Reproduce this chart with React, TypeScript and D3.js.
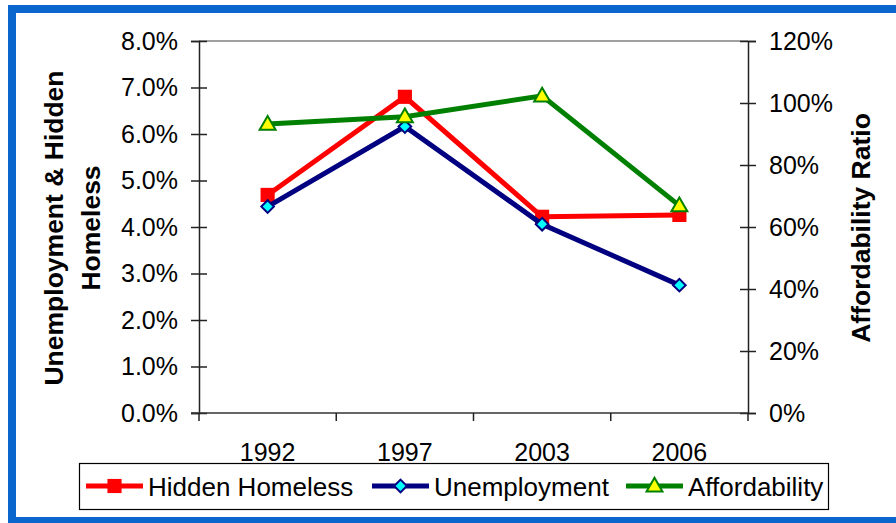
import * as d3 from "d3";
import React, { useEffect, useRef } from "react";

// chart values
const years = ["1992", "1997", "2003", "2006"];
const hiddenHomeless = [0.0469, 0.068, 0.0422, 0.0426];
const unemployment = [0.0444, 0.0616, 0.0406, 0.0275];
const affordability = [0.932, 0.956, 1.023, 0.669];
const leftTicks = [0, 0.01, 0.02, 0.03, 0.04, 0.05, 0.06, 0.07, 0.08];
const rightTicks = [0, 0.2, 0.4, 0.6, 0.8, 1.0, 1.2];
const legendLabels = ["Hidden Homeless", "Unemployment", "Affordability"];

export default function App() {
  const ref = useRef<SVGSVGElement>(null);

  useEffect(() => {
    const width = 896;
    const height = 523;
    const font = "'Liberation Sans', Arial, sans-serif";

    const svg = d3.select(ref.current);
    svg.selectAll("*").remove();
    svg.attr("viewBox", [0, 0, width, height]).style("font-family", font);

    // plot area
    const margin = { top: 41, right: 148, bottom: 110, left: 199 };
    const x = d3
      .scaleBand<string>()
      .domain(years)
      .range([margin.left, width - margin.right])
      .padding(0);
    const yL = d3.scaleLinear([0, 0.08], [height - margin.bottom, margin.top]);
    const yR = d3.scaleLinear([0, 1.2], [height - margin.bottom, margin.top]);
    const cx = (d: string) => (x(d) as number) + x.bandwidth() / 2;

    // blue frame
    const blue = "#0A66CC";
    svg.append("rect").attr("x", 8).attr("y", 5).attr("width", 888).attr("height", 8).attr("fill", blue);
    svg.append("rect").attr("x", 8).attr("y", 5).attr("width", 8).attr("height", 518).attr("fill", blue);
    svg.append("rect").attr("x", 8).attr("y", 517).attr("width", 888).attr("height", 6).attr("fill", blue);

    // top border of plot area
    svg
      .append("line")
      .attr("x1", margin.left)
      .attr("x2", width - margin.right)
      .attr("y1", margin.top)
      .attr("y2", margin.top)
      .attr("stroke", "#808080")
      .attr("stroke-width", 1.5);

    // left axis
    svg
      .append("g")
      .attr("transform", `translate(${margin.left},0)`)
      .call(d3.axisLeft(yL).tickValues(leftTicks).tickFormat(d3.format(".1%")).tickSize(8).tickPadding(13))
      .call((g) => g.select(".domain").attr("stroke", "#222").attr("stroke-width", 1.5))
      .call((g) => g.selectAll(".tick line").attr("x2", 8).attr("x1", -8).attr("stroke", "#222").attr("stroke-width", 1.5))
      .call((g) => g.selectAll("text").attr("font-size", 25).attr("fill", "#000").attr("font-family", font));

    // right axis
    svg
      .append("g")
      .attr("transform", `translate(${width - margin.right},0)`)
      .call(d3.axisRight(yR).tickValues(rightTicks).tickFormat(d3.format(".0%")).tickSize(8).tickPadding(13))
      .call((g) => g.select(".domain").attr("stroke", "#222").attr("stroke-width", 1.5))
      .call((g) => g.selectAll(".tick line").attr("x1", -8).attr("x2", 8).attr("stroke", "#222").attr("stroke-width", 1.5))
      .call((g) => g.selectAll("text").attr("font-size", 25).attr("fill", "#000").attr("font-family", font));

    // bottom axis: labels at band centres, ticks at band edges
    const bottom = svg.append("g").attr("transform", `translate(0,${height - margin.bottom})`);
    bottom
      .call(d3.axisBottom(x).tickSize(0).tickPadding(30))
      .call((g) => g.select(".domain").remove())
      .call((g) => g.selectAll("text").attr("font-size", 25).attr("fill", "#000").attr("font-family", font));
    bottom
      .append("line")
      .attr("x1", margin.left - 8)
      .attr("x2", width - margin.right)
      .attr("stroke", "#333")
      .attr("stroke-width", 1.5);
    bottom
      .selectAll("line.edge")
      .data([...years.map((d) => x(d) as number), width - margin.right])
      .join("line")
      .attr("class", "edge")
      .attr("x1", (d) => d)
      .attr("x2", (d) => d)
      .attr("y1", 0)
      .attr("y2", 8)
      .attr("stroke", "#222")
      .attr("stroke-width", 1.5);

    // axis titles
    const leftTitle = svg
      .append("text")
      .attr("font-size", 26.5)
      .attr("font-weight", "bold")
      .attr("text-anchor", "middle")
      .attr("transform", "translate(63,228) rotate(-90)");
    leftTitle.append("tspan").attr("x", 0).attr("y", 0).text("Unemployment & Hidden");
    leftTitle.append("tspan").attr("x", 0).attr("y", 37).text("Homeless");

    svg
      .append("text")
      .attr("font-size", 26.5)
      .attr("font-weight", "bold")
      .attr("text-anchor", "middle")
      .attr("transform", "translate(870,228) rotate(-90)")
      .text("Affordability Ratio");

    // series
    const series = [
      { values: hiddenHomeless, y: yL, line: "#FF0000", fill: "#FF0000", stroke: "#FF0000", symbol: d3.symbolSquare, size: 200, rotate: 0 },
      { values: unemployment, y: yL, line: "#000080", fill: "#00FFFF", stroke: "#000080", symbol: d3.symbolSquare, size: 80, rotate: 45 },
      { values: affordability, y: yR, line: "#008000", fill: "#FFFF00", stroke: "#008000", symbol: d3.symbolTriangle, size: 110, rotate: 0 },
    ];

    series.forEach((s) => {
      const pts = years.map((d, i) => [cx(d), s.y(s.values[i])] as [number, number]);
      svg
        .append("path")
        .attr("d", d3.line()(pts))
        .attr("fill", "none")
        .attr("stroke", s.line)
        .attr("stroke-width", 5)
        .attr("stroke-linejoin", "miter");
      svg
        .append("g")
        .selectAll("path")
        .data(pts)
        .join("path")
        .attr("d", d3.symbol(s.symbol, s.size)())
        .attr("transform", (p) => `translate(${p[0]},${p[1] + (s.symbol === d3.symbolTriangle ? 1 : 0)}) rotate(${s.rotate})`)
        .attr("fill", s.fill)
        .attr("stroke", s.stroke)
        .attr("stroke-width", s.symbol === d3.symbolSquare && s.rotate === 0 ? 0 : 2);
    });

    // legend
    const legend = svg.append("g");
    legend
      .append("rect")
      .attr("x", 79.5)
      .attr("y", 463.5)
      .attr("width", 749)
      .attr("height", 46)
      .attr("fill", "#fff")
      .attr("stroke", "#000")
      .attr("stroke-width", 1.2);
    const legendX = [86, 372, 626];
    series.forEach((s, i) => {
      const g = legend.append("g").attr("transform", `translate(${legendX[i]},486)`);
      g.append("line").attr("x1", 0).attr("x2", 57).attr("stroke", s.line).attr("stroke-width", 5);
      g.append("path")
        .attr("d", d3.symbol(s.symbol, s.size)())
        .attr("transform", `translate(28.5,${s.symbol === d3.symbolTriangle ? 1 : 0}) rotate(${s.rotate})`)
        .attr("fill", s.fill)
        .attr("stroke", s.stroke)
        .attr("stroke-width", s.symbol === d3.symbolSquare && s.rotate === 0 ? 0 : 2);
      g.append("text")
        .attr("x", 62)
        .attr("y", 9.5)
        .attr("font-size", 26)
        .text(legendLabels[i]);
    });
  }, []);

  return (
    <svg
      ref={ref}
      width={896}
      height={523}
      style={{ position: "absolute", left: 0, top: 0, background: "#fff" }}
    ></svg>
  );
}
